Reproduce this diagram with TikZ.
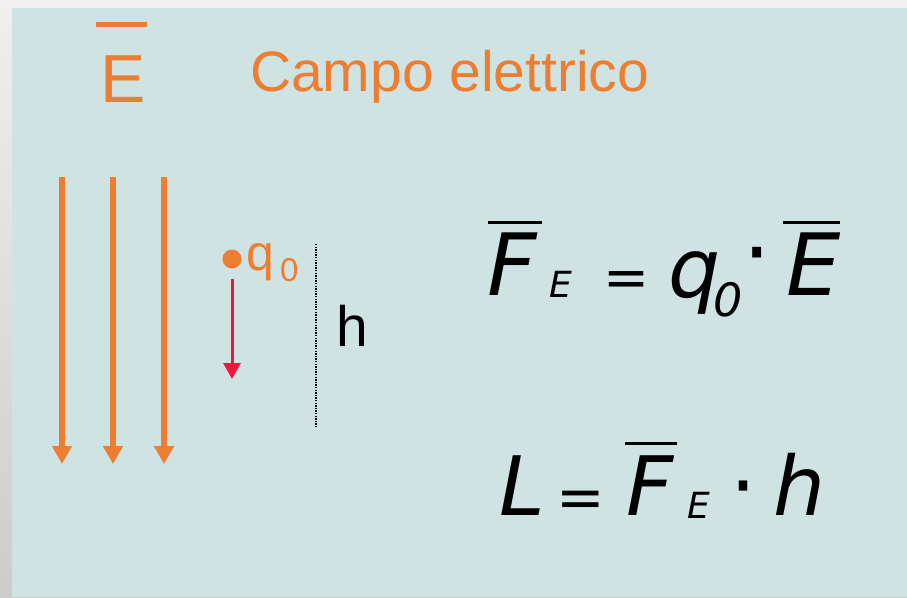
\documentclass[tikz,border=0pt]{standalone}
\usepackage{fontspec}
\setmainfont{Liberation Sans}
\newfontfamily\eqfont{DejaVu Sans}
\usetikzlibrary{arrows.meta}
\definecolor{teal}{HTML}{CFE3E2}
\definecolor{orng}{HTML}{ED7D31}
\definecolor{redarrow}{HTML}{F5143C}
\tikzset{
  txt/.style={inner sep=0pt, outer sep=0pt, anchor=base west},
  ctxt/.style={inner sep=0pt, outer sep=0pt, anchor=base},
  fieldarrow/.style={draw=orng, line width=6pt, -{Triangle[width=19pt,length=18pt]}},
  forcearrow/.style={draw=redarrow, line width=3pt, -{Triangle[width=17pt,length=16pt]}},
  barline/.style={line width=3pt},
}
\newcommand{\fs}[1]{\fontsize{#1}{#1}\selectfont}
\begin{document}
\begin{tikzpicture}[x=1pt,y=-1pt]
\useasboundingbox (0,0) rectangle (907,597);
\shade[top color=gray!12, bottom color=gray!40] (0,0) rectangle (907,597);
\fill[teal] (12,8) rectangle (907,597);
% title
\draw[orng, line width=5pt] (96,24.5) -- (147,24.5);
\node[txt, text=orng] (Evec) at (100,102) {\fs{68}E};
\node[txt, text=orng] (title) at (250,91) {\fs{57}Campo elettrico};
% field arrows
\foreach \i/\x in {1/62,2/113,3/164}{
  \coordinate (a\i) at (\x,177);
  \coordinate (b\i) at (\x,464);
  \draw[fieldarrow] (a\i) -- (b\i);
}
% charge
\node[circle, fill=orng, minimum size=19pt, inner sep=0pt] (dot) at (232,259) {};
\node[txt, text=orng] (q) at (246,270) {\fs{50}q};
\node[txt, text=orng] (qsub) at (280,281) {\fs{33}0};
\coordinate (fs) at (232,279);
\coordinate (fe) at (232,379);
\draw[forcearrow] (fs) -- (fe);
% height
\coordinate (hs) at (316,244);
\coordinate (he) at (316,428);
\draw[line width=1.3pt, dash pattern=on 1.3pt off 1.3pt] (hs) -- (he);
\node[txt] (hlab) at (336,346) {\fs{57}h};
% formula 1
\node[txt] (F1) at (487,295) {\eqfont\itshape\fs{86}F};
\draw[barline] (488,222) -- (542,222);
\node[txt] (E1) at (549,297) {\eqfont\itshape\fs{36}E};
\node[ctxt] (eq1) at (627,296) {\eqfont\fs{55}=};
\node[txt] (q1) at (668,297) {\eqfont\itshape\fs{82}q};
\node[txt] (q1s) at (713,316) {\eqfont\itshape\fs{46}0};
\node[ctxt] (d1) at (757,282) {\eqfont\fs{86}·};
\node[txt] (E2) at (786,295) {\eqfont\itshape\fs{86}E};
\draw[barline] (783,222) -- (840,222);
% formula 2
\node[txt] (L) at (499,515) {\eqfont\itshape\fs{82}L};
\node[ctxt] (eq2) at (581,517) {\eqfont\fs{58}=};
\node[txt] (F2) at (626,515) {\eqfont\itshape\fs{82}F};
\draw[barline] (625,443) -- (677,443);
\node[txt] (E3) at (687,518) {\eqfont\itshape\fs{36}E};
\node[ctxt] (d2) at (744,514) {\eqfont\fs{82}·};
\node[txt] (h2) at (773,515) {\eqfont\itshape\fs{82}h};
\end{tikzpicture}
\end{document}
